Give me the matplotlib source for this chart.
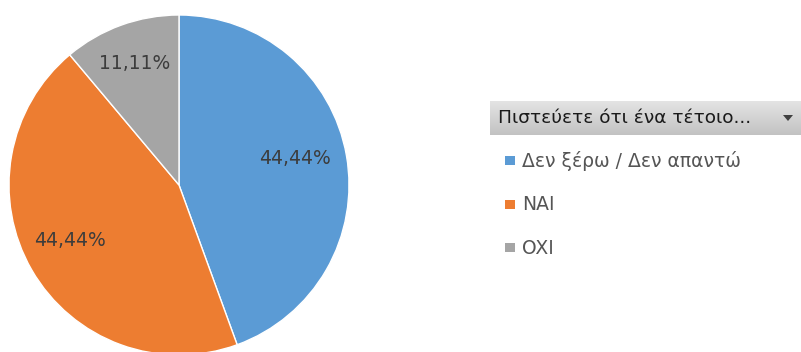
import matplotlib
matplotlib.use('Agg')
import matplotlib.pyplot as plt
import numpy as np
from matplotlib.patches import Rectangle, Polygon

plt.rcParams['font.family'] = ['DejaVu Sans']

# survey answers
categories = ['Δεν ξέρω / Δεν απαντώ', 'NAI', 'OXI']
shares = [44.44, 44.44, 11.11]
colors = ['#5B9BD5', '#ED7D31', '#A5A5A5']
legend_title = 'Πιστεύετε ότι ένα τέτοιο...'

# where each percentage sits: (angle offset from slice middle, radius)
label_spots = [(3, 0.70), (-3, 0.72), (0, 0.76)]

W, H = 801, 352
fig = plt.figure(figsize=(W / 100, H / 100), dpi=100)
fig.patch.set_facecolor('white')

# pie axes: centre (179, 185), radius 170 px
cx, cy, r = 179, 185, 170
ax = fig.add_axes([(cx - r) / W, 1 - (cy + r) / H, 2 * r / W, 2 * r / H])
wedges, _ = ax.pie(shares, colors=colors, startangle=90, counterclock=False,
                   radius=1.0, wedgeprops=dict(edgecolor='white', linewidth=1))
ax.set_xlim(-1, 1)
ax.set_ylim(-1, 1)
ax.set_aspect('equal')
ax.axis('off')

for w, val, (doff, rad) in zip(wedges, shares, label_spots):
    mid = np.deg2rad((w.theta1 + w.theta2) / 2 + doff)
    ax.text(rad * np.cos(mid), rad * np.sin(mid), f'{val:.2f}%'.replace('.', ','),
            ha='center', va='center', fontsize=13.5, color='#3c3c3c')

# legend header bar with a soft vertical gradient
hx0, hy0, hx1, hy1 = 490, 101, 801, 135
grad = np.linspace(0, 1, 64).reshape(-1, 1)
lax = fig.add_axes([hx0 / W, 1 - hy1 / H, (hx1 - hx0) / W, (hy1 - hy0) / H])
lax.imshow(grad, aspect='auto', cmap=matplotlib.colors.LinearSegmentedColormap.from_list(
    'hdr', ['#e4e4e4', '#c2c2c2']), extent=[0, 1, 0, 1], origin='upper')
lax.axis('off')
fig.text(498 / W, 1 - 118 / H, legend_title, ha='left', va='center',
         fontsize=13.3, color='#1a1a1a')
fig.patches.append(Polygon([[783 / W, 1 - 115 / H], [793 / W, 1 - 115 / H],
                            [788 / W, 1 - 121 / H]], closed=True,
                           transform=fig.transFigure, facecolor='#404040',
                           edgecolor='none'))

# legend entries
entry_y = [161, 205, 248]
for name, col, y in zip(categories, colors, entry_y):
    fig.patches.append(Rectangle((505 / W, 1 - (y + 4) / H), 10 / W, 9 / H,
                                 transform=fig.transFigure, facecolor=col,
                                 edgecolor='none'))
    fig.text(522 / W, 1 - y / H, name, ha='left', va='center',
             fontsize=13.5, color='#555555')

fig.savefig('out.png', dpi=100)
